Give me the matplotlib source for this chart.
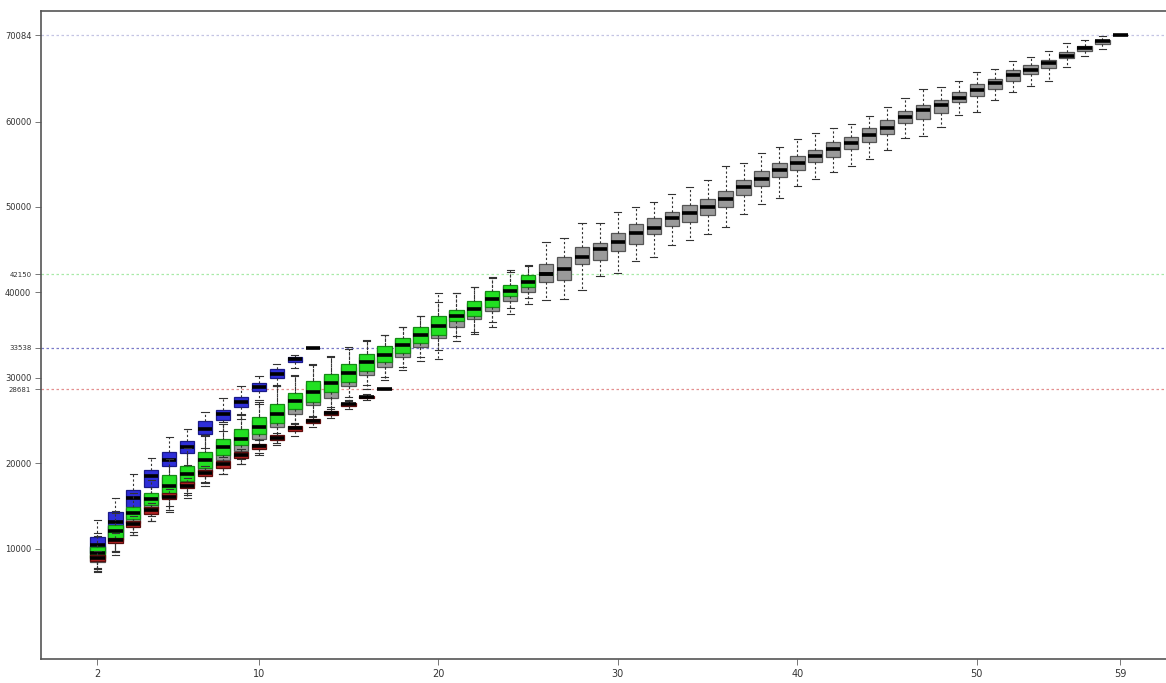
import matplotlib
matplotlib.use("Agg")
import matplotlib.pyplot as plt

# x tick positions (box index) and their printed labels
tick_pos = [1, 10, 20, 30, 40, 50, 58]
tick_labels = ["2", "10", "20", "30", "40", "50", "59"]

# reference lines (final value of each series)
ref_values = [70084, 42150, 33538, 28681]
ref_colors = ["#c4c4e4", "#a8eaa8", "#7a7ac8", "#e49090"]

# gray series: median, q1, q3, lower whisker, upper whisker
gray_med = [9300, 11800, 13900, 15500, 17100, 18500, 20000, 21400, 22500, 23900,
            25300, 26900, 28000, 29000, 30200, 31400, 32300, 33400, 34600, 35800,
            36900, 37900, 38900, 39900, 40900, 42200, 42800, 44200, 45100, 45900,
            46900, 47500, 48700, 49300, 50000, 50900, 52300, 53300, 54300, 55200,
            56000, 56800, 57500, 58400, 59300, 60500, 61400, 61900, 62800, 63700,
            64500, 65400, 66000, 66800, 67700, 68600, 69400, 70084]
gray_q1 = [8500, 10900, 13000, 14600, 15900, 17500, 19000, 20400, 21400, 22800,
           24200, 25800, 26800, 27700, 29000, 30300, 31300, 32400, 33600, 34700,
           35900, 36900, 37800, 39000, 40100, 41200, 41500, 43300, 43800, 44900,
           45700, 46800, 47800, 48300, 49100, 50000, 51400, 52500, 53500, 54300,
           55300, 55900, 56800, 57600, 58500, 59800, 60300, 61000, 62300, 63000,
           63800, 64700, 65600, 66300, 67400, 68300, 69100, 70084]
gray_q3 = [10300, 12700, 14800, 16400, 18400, 19500, 21100, 22600, 23700, 25100,
           26700, 28000, 29300, 30200, 31300, 32500, 33400, 34500, 35700, 36900,
           37800, 38800, 40000, 40700, 41800, 43300, 44200, 45300, 45800, 47000,
           48000, 48700, 49400, 50200, 50900, 51900, 53100, 54200, 55100, 56000,
           56700, 57600, 58200, 59200, 60200, 61200, 61900, 62500, 63400, 64400,
           65000, 66000, 66600, 67200, 68100, 68800, 69600, 70084]
gray_lo = [7300, 9300, 11600, 13200, 14300, 16000, 17400, 18800, 19900, 21200,
           22400, 24000, 25000, 26000, 27400, 28700, 29700, 30900, 32000, 32200,
           34300, 35100, 36000, 37500, 38600, 39100, 39200, 40300, 41900, 42300,
           43700, 44200, 45600, 46100, 46800, 47700, 49200, 50400, 51100, 52500,
           53300, 54100, 54800, 55600, 56700, 58100, 58300, 59400, 60800, 61100,
           62500, 63400, 64200, 64800, 66400, 67700, 68500, 70084]
gray_hi = [11800, 14400, 16600, 18200, 20400, 21600, 23200, 24600, 25700, 27000,
           29000, 30200, 31500, 32500, 33400, 34300, 35000, 35900, 37200, 39900,
           39900, 40600, 41800, 42600, 43200, 45900, 46400, 48100, 48100, 49400,
           50000, 50600, 51500, 52300, 53100, 54800, 55100, 56300, 57000, 57900,
           58600, 59200, 59700, 60700, 61700, 62800, 63800, 64000, 64800, 65800,
           66200, 67100, 67500, 68300, 69200, 69500, 70000, 70084]

# blue series
blue_med = [10400, 13100, 16000, 18500, 20400, 21900, 24000, 25800, 27200, 28900, 30500, 32200, 33538]
blue_q1 = [9500, 11400, 14900, 17200, 19700, 21200, 23400, 25100, 26600, 28500, 30000, 31900, 33538]
blue_q3 = [11400, 14300, 16900, 19200, 21300, 22600, 24900, 26300, 27800, 29400, 31000, 32500, 33538]
blue_lo = [7600, 9600, 13000, 15600, 17800, 19800, 21800, 23800, 25200, 27400, 29000, 31200, 33538]
blue_hi = [13400, 15900, 18700, 20600, 23100, 24000, 26000, 27600, 29000, 30200, 31600, 32700, 33538]

# green series
green_med = [9500, 12100, 14200, 15800, 17400, 18800, 20400, 21900, 22900, 24300, 25800, 27300, 28400,
             29400, 30600, 31900, 32700, 33800, 35000, 36100, 37300, 38100, 39200, 40200, 41200, 42150]
green_q1 = [8900, 11200, 13500, 15100, 16100, 17900, 19500, 21000, 22100, 23400, 24700, 26400, 27200,
            28300, 29500, 30800, 31900, 32900, 34100, 35000, 36600, 37300, 38300, 39600, 40600, 42150]
green_q3 = [10200, 12800, 14900, 16500, 18600, 19700, 21300, 22900, 24000, 25400, 27000, 28200, 29600,
            30500, 31600, 32800, 33700, 34700, 36000, 37200, 38000, 39000, 40200, 40900, 42000, 42150]
green_lo = [7800, 9800, 12000, 13800, 14500, 16500, 17800, 19500, 20500, 21800, 22800, 24600, 25400,
            26600, 27800, 29200, 30100, 31300, 32500, 33300, 34900, 35400, 36500, 38200, 39300, 42150]
green_hi = [11500, 14200, 16500, 18000, 20500, 21800, 23300, 24800, 25800, 27200, 29200, 30300, 31600,
            32600, 33600, 34400, 35000, 35900, 37200, 38900, 39900, 40600, 41700, 42400, 43100, 42150]

# red series
red_med = [8900, 11000, 12900, 14500, 16100, 17400, 18900, 19900, 21000, 22000, 23000, 24100, 25000,
           25900, 26900, 27800, 28681]
red_q1 = [8600, 10700, 12500, 14100, 15800, 17100, 18500, 19500, 20600, 21700, 22700, 23800, 24700,
          25700, 26700, 27600, 28681]
red_q3 = [9300, 11300, 13300, 14900, 16500, 17800, 19200, 20300, 21300, 22300, 23300, 24400, 25200,
          26100, 27100, 27900, 28681]
red_lo = [7400, 9800, 11600, 13300, 15000, 16300, 17700, 18800, 19900, 21000, 22100, 23200, 24300,
          25300, 26400, 27400, 28681]
red_hi = [9800, 11900, 13800, 15400, 17000, 18300, 19700, 20700, 21700, 22700, 23600, 24700, 25500,
          26400, 27300, 28100, 28681]


def make_stats(med, q1, q3, lo, hi):
    return [dict(med=m, q1=a, q3=b, whislo=l, whishi=h, fliers=[])
            for m, a, b, l, h in zip(med, q1, q3, lo, hi)]


def draw_series(ax, stats, fill, edge, z):
    pos = list(range(1, len(stats) + 1))
    ax.bxp(stats, positions=pos, widths=0.8, capwidths=0.4, patch_artist=True,
           showfliers=False, manage_ticks=False, zorder=z,
           boxprops=dict(facecolor=fill, edgecolor=edge, linewidth=0.9),
           medianprops=dict(color="black", linewidth=2.6, solid_capstyle="butt"),
           whiskerprops=dict(color="#333333", linewidth=0.8, linestyle=(0, (2, 2))),
           capprops=dict(color="#333333", linewidth=0.8))


fig = plt.figure(figsize=(11.66, 6.83), dpi=100)
ax = fig.add_axes([0.0352, 0.0351, 0.9648, 0.9481])

for v, c in zip(ref_values, ref_colors):
    ax.axhline(v, color=c, linewidth=0.9, linestyle=(0, (2, 2)), zorder=1)

draw_series(ax, make_stats(gray_med, gray_q1, gray_q3, gray_lo, gray_hi), "#9a9a9a", "#555555", 2)
draw_series(ax, make_stats(blue_med, blue_q1, blue_q3, blue_lo, blue_hi), "#2e2ed8", "#1a1a88", 3)
draw_series(ax, make_stats(green_med, green_q1, green_q3, green_lo, green_hi), "#22e022", "#158a15", 4)
draw_series(ax, make_stats(red_med, red_q1, red_q3, red_lo, red_hi), "#b02222", "#5e0e0e", 5)

ax.set_xlim(-2.14, 60.54)
ax.set_ylim(-2900, 72880)

ax.set_xticks(tick_pos)
ax.set_xticklabels(tick_labels, fontsize=7, color="#333333")

y_main = [10000, 20000, 30000, 40000, 50000, 60000]
yt = y_main + ref_values
ax.set_yticks(yt)
ax.set_yticklabels([str(v) for v in yt], color="#333333")
for lab, v in zip(ax.get_yticklabels(), yt):
    lab.set_fontsize(5 if v in (42150, 33538, 28681) else 6)

ax.tick_params(axis="both", length=4, width=0.7, color="#777777", pad=3)
for side in ["left", "bottom", "top"]:
    ax.spines[side].set_color("#555555")
    ax.spines[side].set_linewidth(1.2)
ax.spines["right"].set_visible(False)

fig.savefig("out.png", dpi=100)
